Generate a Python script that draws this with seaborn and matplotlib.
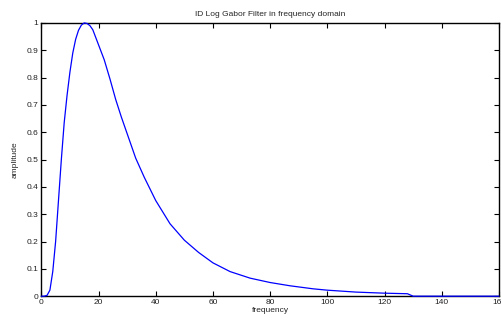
import matplotlib
matplotlib.use("Agg")
import matplotlib.pyplot as plt
import seaborn as sns
import pandas as pd

# Values
freq = [0, 1, 2, 3, 4, 5, 6, 7, 8, 9, 10, 11, 12, 13, 14, 15, 16, 17, 18,
        20, 22, 24, 26, 28, 30, 33, 36, 40, 45, 50, 55, 60, 66, 73, 80, 87,
        95, 100, 110, 120, 128, 130, 160]
amplitude = [0, 0, 0.003, 0.022, 0.09, 0.20, 0.35, 0.50, 0.635, 0.735, 0.82,
             0.89, 0.94, 0.973, 0.992, 1.0, 0.998, 0.99, 0.975,
             0.92, 0.865, 0.795, 0.72, 0.655, 0.595, 0.505, 0.435, 0.35, 0.265,
             0.205, 0.16, 0.122, 0.09, 0.066, 0.05, 0.038,
             0.027, 0.022, 0.015, 0.011, 0.009, 0, 0]
x_ticks = [0, 20, 40, 60, 80, 100, 120, 140, 160]
y_ticks = [0, 0.1, 0.2, 0.3, 0.4, 0.5, 0.6, 0.7, 0.8, 0.9, 1]
y_tick_labels = ["0", "0.1", "0.2", "0.3", "0.4", "0.5", "0.6", "0.7", "0.8", "0.9", "1"]

df = pd.DataFrame({"frequency": freq, "amplitude": amplitude})

sns.set_style("ticks")
plt.rcParams['font.family'] = ['Liberation Sans', 'DejaVu Sans']

fig = plt.figure(figsize=(5.02, 3.23), dpi=100)
ax = fig.add_axes([0.0823, 0.083, 0.9117, 0.846])

sns.lineplot(data=df, x="frequency", y="amplitude", ax=ax, color=(0, 0, 1),
             linewidth=0.9, zorder=3, clip_on=False)

ax.set_xlim(0, 160)
ax.set_ylim(0, 1)
ax.set_xticks(x_ticks)
ax.set_yticks(y_ticks)
ax.set_yticklabels(y_tick_labels)
ax.tick_params(direction="in", length=3.5, width=0.8, labelsize=6,
               top=True, right=True, colors="black", labelcolor="#222222", pad=2)
for s in ax.spines.values():
    s.set_visible(True)
    s.set_linewidth(1.0)
    s.set_color("black")

ax.set_title("ID Log Gabor Filter in frequency domain", fontsize=6, pad=5)
ax.set_xlabel("frequency", fontsize=6, labelpad=1)
ax.set_ylabel("amplitude", fontsize=6, labelpad=6)

fig.savefig("out.png", dpi=100)
